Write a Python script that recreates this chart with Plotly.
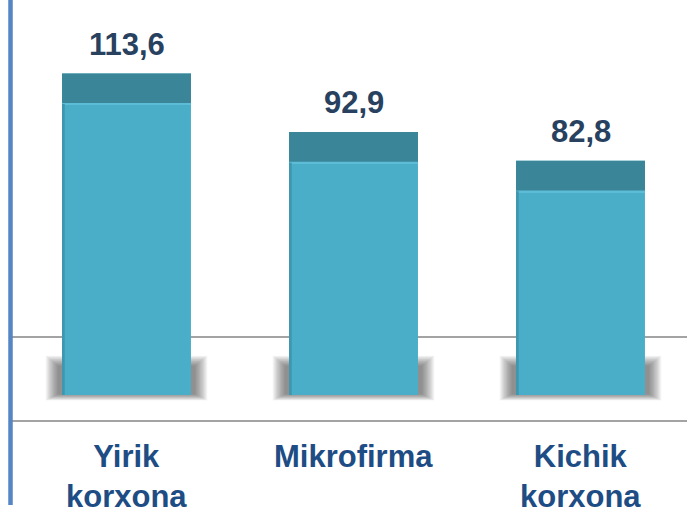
import plotly.graph_objects as go

categories = ["Yirik<br>korxona", "Mikrofirma", "Kichik<br>korxona"]
values = [113.6, 92.9, 82.8]
value_labels = ["113,6", "92,9", "82,8"]

W, H = 687, 509
BAR_W = 0.568
CAP = 10.8

x = list(range(len(categories)))

fig = go.Figure()

# body
fig.add_trace(go.Bar(
    x=x, y=values, width=BAR_W,
    marker=dict(color="#4BAEC8", line=dict(width=0)),
    hoverinfo="skip", showlegend=False,
))
# dark cap
fig.add_trace(go.Bar(
    x=x, y=[CAP] * len(values), base=[v - CAP for v in values], width=BAR_W,
    marker=dict(color="#3B8598", line=dict(width=0)),
    hoverinfo="skip", showlegend=False,
))
# highlight edge at bottom of cap
fig.add_trace(go.Bar(
    x=x, y=[0.6] * len(values), base=[v - CAP - 0.3 for v in values], width=BAR_W,
    marker=dict(color="#5DBCD6", line=dict(width=0)),
    hoverinfo="skip", showlegend=False,
))
# left side darker edge
fig.add_trace(go.Bar(
    x=[i - BAR_W / 2 + 0.006 for i in x], y=[v - CAP for v in values], width=0.012,
    marker=dict(color="#3F97AF", line=dict(width=0)),
    hoverinfo="skip", showlegend=False,
))

shapes = []
# soft shadow around the bar bottoms (many layered translucent rects)
N = 16
for i in x:
    for k in range(N):
        f = k / (N - 1)
        dx = 0.072 * (1 - f) + 0.018 * f
        y0 = -1.9 * (1 - f) + 0.3 * f
        y1 = 13.9 * (1 - f) + 10.3 * f
        shapes.append(dict(
            type="rect", xref="x", yref="y",
            x0=i - BAR_W / 2 - dx, x1=i + BAR_W / 2 + dx, y0=y0, y1=y1,
            fillcolor="rgba(40,40,40,0.045)", line=dict(width=0), layer="below",
        ))

# horizontal floor lines
for yp in [1 - 337 / H, 1 - 421 / H]:
    shapes.append(dict(
        type="line", xref="paper", yref="paper",
        x0=12 / W, x1=1, y0=yp, y1=yp,
        line=dict(color="#A3A3A3", width=2), layer="below",
    ))
# left vertical blue line
shapes.append(dict(
    type="line", xref="paper", yref="paper",
    x0=10.5 / W, x1=10.5 / W, y0=1 - 505 / H, y1=1,
    line=dict(color="#5585C5", width=4.5),
))

FONT = "Arial, Liberation Sans, sans-serif"
annotations = []
for i, v, t in zip(x, values, value_labels):
    annotations.append(dict(
        x=i, y=v, xref="x", yref="y", text="<b>" + t + "</b>", showarrow=False,
        yanchor="bottom", yshift=10,
        font=dict(family=FONT, size=31, color="#27415F"),
    ))
for i, c in zip(x, categories):
    annotations.append(dict(
        x=i, y=0, xref="x", yref="y", text="<b>" + c + "</b>", showarrow=False,
        yanchor="top", yshift=-42,
        font=dict(family=FONT, size=31, color="#1E4C84"),
    ))

px_per_unit = 227
x0c = 126.5
fig.update_layout(
    width=W, height=H,
    margin=dict(l=0, r=0, t=0, b=0),
    paper_bgcolor="white", plot_bgcolor="white",
    barmode="overlay",
    xaxis=dict(range=[-x0c / px_per_unit, (W - x0c) / px_per_unit], visible=False, fixedrange=True),
    yaxis=dict(range=[-(H - 395) / 2.83, 395 / 2.83], visible=False, fixedrange=True),
    shapes=shapes,
    annotations=annotations,
)

fig.write_html(
    "out.html",
    config={"displayModeBar": False},
    post_script="document.body.style.margin='0';document.body.style.overflow='hidden';",
)
